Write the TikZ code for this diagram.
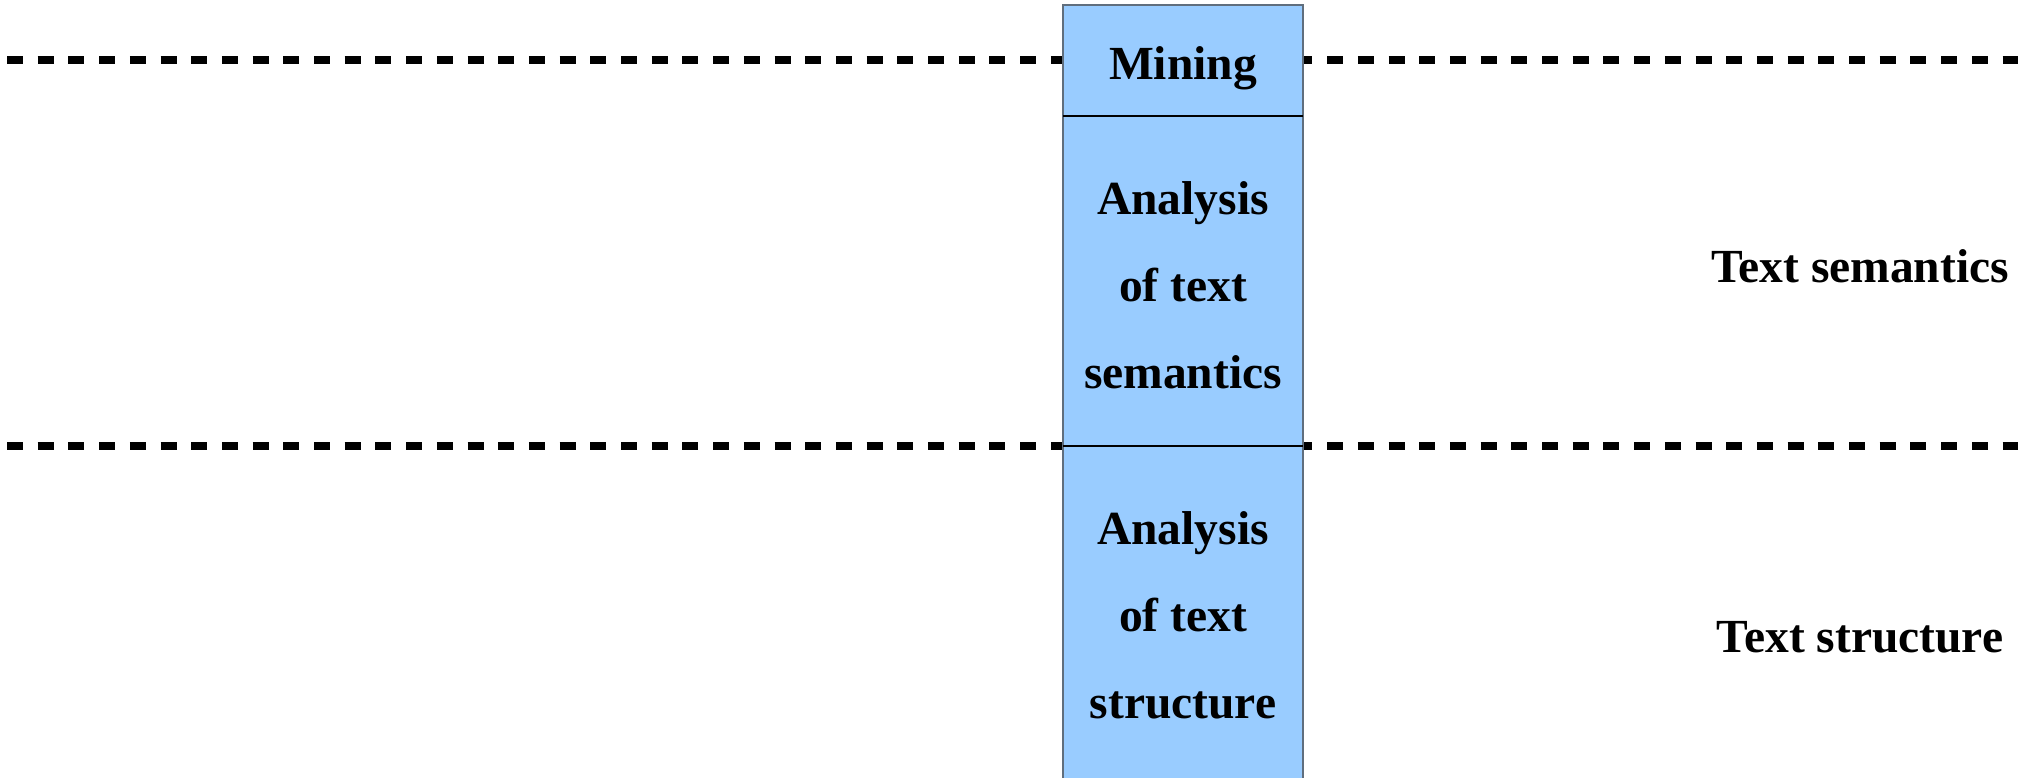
\documentclass[tikz,border=0pt]{standalone}
\usepackage{fontspec}
\setmainfont{Liberation Serif}
\definecolor{layerfill}{HTML}{99CCFF}
\definecolor{layeredge}{RGB}{96,110,125}
\begin{document}
\begin{tikzpicture}[x=1pt,y=-1pt,
  layerbox/.style={rectangle,draw=layeredge,line width=1.5pt,fill=layerfill,
    minimum width=240pt,inner sep=0pt,outer sep=0pt,anchor=north},
  lbl/.style={font=\fontsize{47.5}{87}\selectfont\bfseries,align=center,inner sep=0pt},
  boundary/.style={line width=8pt,dash pattern=on 16pt off 14.7pt},
  divider/.style={line width=1.2pt,black}]
\useasboundingbox (0,0) rectangle (2018,778);
\clip (0,0) rectangle (2018,778);

% level boundaries
\coordinate (b1l) at (7,60);
\coordinate (b1r) at (2030,60);
\coordinate (b2l) at (7,446);
\coordinate (b2r) at (2030,446);
\draw[boundary] (b1l) -- (b1r);
\draw[boundary] (b2l) -- (b2r);

% stacked processing column
\node[layerbox,minimum height=111pt] (mining) at (1183,5) {};
\node[layerbox,minimum height=330pt] (sem) at (mining.south) {};
\node[layerbox,minimum height=350pt] (struct) at (sem.south) {};
\draw[divider] (mining.south west) -- (mining.south east);
\draw[divider] (sem.south west) -- (sem.south east);

% column texts
\node[lbl,anchor=base] (miningtxt) at (1183,80) {Mining};
\node[lbl,anchor=north] (semtxt) at (1183,181) {Analysis\\of text\\semantics};
\node[lbl,anchor=north] (structtxt) at (1183,511) {Analysis\\of text\\structure};

% level names
\node[lbl,anchor=base] (semlevel) at (1860,282) {Text semantics};
\node[lbl,anchor=base] (structlevel) at (1860,652) {Text structure};
\end{tikzpicture}
\end{document}
